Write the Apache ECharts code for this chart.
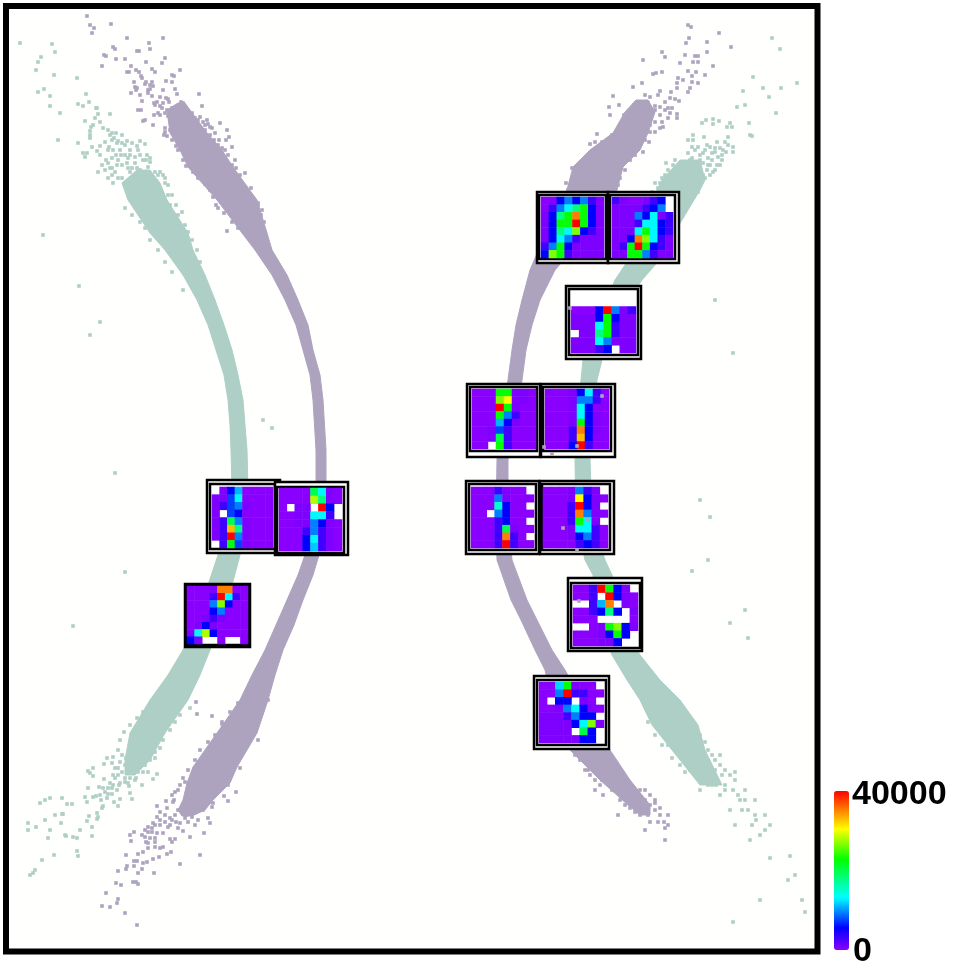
<!DOCTYPE html>
<html><head><meta charset="utf-8">
<style>html,body{margin:0;padding:0;background:#fff}#c{width:954px;height:972px}</style>
<script src="https://cdn.jsdelivr.net/npm/echarts@6/dist/echarts.min.js"></script>
</head><body><div id="c"></div>
<script>
const _ = null;
const colorMax = 40000, colorMin = 0;
const colorLabels = ['40000', '0'];

// Dense core of each band: [left x, right x, y]
const purpleLeftBand = [[178,185,103],[167,190,110],[170,207,133],[180,222,150],[188,233,167],[217,257,200],[242,267,233],[255,272,250],[272,287,275],[285,298,300],[296,308,325],[303,313,350],[310,320,375],[313,323,400],[316,326,450],[316,326,490],[312,325,530],[305,319,555],[298,313,575],[287,303,600],[276,294,625],[265,283,650],[252,275,675],[240,268,700],[217,257,733],[193,237,767],[187,230,783],[183,213,800],[178,205,810],[182,192,816]];
const tealLeftBand = [[137,150,170],[122,160,183],[128,167,200],[150,188,233],[165,193,250],[183,205,275],[197,215,300],[208,224,325],[216,232,350],[224,238,375],[228,243,400],[230,245,425],[231,247,450],[232,248,490],[228,245,530],[218,240,555],[208,232,585],[195,218,625],[183,210,650],[168,200,675],[150,188,700],[130,165,733],[125,150,760],[125,135,775]];
const purpleRightBand = [[636,648,100],[625,655,112],[613,648,133],[590,640,150],[573,623,167],[567,617,190],[552,595,215],[545,585,235],[530,555,270],[522,540,300],[516,532,325],[512,526,350],[508,522,380],[500,512,430],[497,508,460],[496,508,520],[497,512,560],[511,527,600],[521,537,620],[535,552,650],[545,565,670],[558,595,725],[570,610,750],[600,630,780],[628,650,805],[640,650,815]];
const tealRightBand = [[680,700,160],[662,705,180],[657,700,190],[625,655,265],[615,642,280],[598,616,320],[583,602,360],[581,597,380],[577,592,420],[575,590,460],[576,592,520],[585,605,560],[593,612,575],[598,620,620],[612,640,655],[627,660,680],[640,680,700],[652,698,725],[672,705,750],[700,722,785]];

// Loose points around the bands
const purpleTopLeft = [[87,16],[90,25],[94,28],[92,33],[111,24],[127,38],[163,38],[149,43],[150,49],[113,47],[115,49],[137,51],[139,51],[104,55],[106,56],[116,59],[125,59],[146,62],[165,58],[162,63],[102,66],[131,66],[127,72],[180,70],[129,72],[136,70],[152,69],[155,72],[139,72],[141,76],[142,78],[172,75],[174,76],[134,82],[146,82],[152,82],[166,81],[172,82],[135,87],[137,88],[145,84],[150,85],[153,86],[131,93],[136,90],[148,90],[150,89],[163,90],[175,89],[199,94],[177,94],[140,95],[148,93],[152,96],[160,97],[166,98],[168,99],[142,101],[154,103],[157,102],[163,103],[169,102],[181,102],[183,103],[202,106],[155,105],[160,106],[172,108],[180,110],[186,108],[138,110],[141,110],[158,113],[162,108],[167,110],[154,115],[160,115],[175,114],[182,117],[145,120],[143,121],[153,125],[220,123],[227,130],[165,132],[164,135],[170,130],[229,137],[226,140],[232,147],[200,117],[207,120],[195,118],[205,125],[215,133],[245,173],[251,188],[227,231],[190,118],[186,120],[178,125],[172,122],[198,120],[210,127],[218,145],[225,150],[235,160],[240,175],[258,203],[262,210],[218,208],[208,185],[210,175],[165,113],[168,116],[172,113],[176,112],[180,116],[184,113],[188,112],[192,113],[170,119],[174,118],[178,119],[183,121],[187,123],[192,121],[196,122],[203,122],[208,124],[212,128],[196,126],[200,128],[205,130],[210,135],[214,140],[219,140],[222,148],[228,155],[232,165],[236,168],[238,178],[243,186],[247,195],[252,200],[258,205],[261,215],[264,222],[176,130],[165,128],[167,136],[172,140],[176,146],[178,150],[183,160],[186,166],[193,172],[198,178],[205,184],[210,190],[213,197],[216,205],[224,213],[232,222],[238,228]];
const tealTopLeft = [[20,43],[52,44],[55,52],[41,57],[38,62],[36,70],[54,75],[77,78],[44,89],[38,92],[50,96],[86,94],[50,106],[78,104],[89,102],[60,113],[97,108],[83,106],[98,114],[96,108],[85,121],[95,118],[100,122],[110,114],[93,125],[91,127],[90,131],[103,128],[108,130],[112,133],[90,135],[78,143],[58,140],[90,138],[116,133],[122,135],[140,141],[145,144],[83,153],[87,153],[92,147],[97,151],[100,146],[112,140],[117,143],[125,145],[85,157],[100,155],[108,150],[120,150],[130,150],[138,150],[147,155],[102,165],[108,163],[98,172],[105,170],[112,168],[118,160],[128,158],[135,163],[148,167],[43,235],[160,172],[163,175],[165,183],[172,195],[176,205],[182,212],[112,175],[108,178],[122,178],[130,172],[140,170],[127,163],[150,162],[79,286],[100,322],[90,335],[115,473],[125,572],[73,626],[263,420],[272,428],[110,135],[114,138],[118,141],[122,143],[127,141],[132,143],[137,146],[105,142],[109,147],[113,150],[116,155],[121,155],[125,155],[130,155],[135,157],[140,155],[143,160],[106,160],[112,158],[117,165],[122,165],[128,168],[132,168],[137,168],[142,173],[146,160],[150,158],[155,172],[158,175],[165,178],[168,185],[110,168],[115,172],[118,178],[113,183],[168,195],[170,205],[178,215],[185,225],[188,232],[192,240],[197,250],[200,262],[145,228],[150,240],[158,250],[165,262],[172,272],[183,290],[125,208],[132,215],[140,222]];
const tealBottomLeft = [[62,798],[67,804],[72,804],[62,814],[63,814],[61,823],[66,836],[73,837],[77,838],[80,830],[77,851],[78,856],[92,836],[92,827],[97,813],[98,817],[97,819],[89,816],[87,821],[85,797],[87,802],[88,788],[93,797],[96,796],[99,787],[103,788],[101,800],[103,806],[102,808],[107,798],[108,794],[112,794],[114,802],[118,806],[120,799],[117,790],[119,785],[110,783],[104,779],[88,771],[93,768],[90,773],[93,776],[104,764],[107,758],[113,775],[115,778],[129,786],[130,793],[132,799],[142,785],[153,779],[157,774],[112,763],[115,768],[118,775],[125,782],[128,783],[135,780],[50,798],[45,800],[40,803],[28,823],[36,827],[48,838],[33,873],[54,855],[42,860],[30,875],[35,870],[45,820],[55,815],[50,830],[28,830],[65,835],[118,750],[122,755],[126,758],[130,755],[135,753],[140,755],[145,750],[150,748],[155,752],[160,748],[120,762],[125,765],[130,763],[135,765],[140,762],[145,765],[150,760],[155,758],[113,757],[118,768],[122,772],[127,772],[132,772],[138,772],[143,772],[148,772],[125,778],[130,778],[136,778],[120,783],[113,785],[108,788],[105,792],[112,788],[100,795],[163,740],[170,730],[175,722],[180,715],[190,708],[120,740],[124,732],[130,725],[137,718],[143,712],[150,705]];
const purpleBottomLeft = [[137,925],[125,913],[117,903],[118,899],[110,907],[102,906],[106,893],[116,883],[121,885],[133,882],[136,882],[138,884],[118,871],[126,869],[127,866],[134,861],[137,861],[134,866],[138,873],[142,869],[143,863],[147,862],[154,873],[153,859],[159,857],[167,854],[171,852],[180,864],[200,855],[126,855],[138,854],[143,852],[148,848],[155,847],[160,848],[163,847],[172,842],[175,839],[170,839],[130,835],[134,832],[131,841],[145,837],[146,842],[148,843],[152,832],[157,833],[163,833],[155,842],[148,827],[153,823],[160,820],[157,817],[168,827],[172,820],[180,823],[183,831],[190,837],[204,833],[188,822],[192,817],[198,820],[208,818],[210,823],[167,808],[157,806],[166,801],[173,802],[175,792],[180,785],[185,782],[172,795],[203,810],[213,803],[212,807],[224,796],[228,801],[236,792],[215,792],[218,787],[228,785],[240,768],[248,742],[258,740],[197,714],[212,716],[222,724],[196,702],[178,810],[182,812],[186,815],[190,810],[195,812],[200,808],[205,806],[210,802],[175,815],[170,818],[165,815],[160,812],[176,822],[170,825],[165,822],[160,825],[155,825],[152,828],[148,832],[145,830],[150,838],[142,835],[155,838],[185,818],[178,828],[195,825],[214,795],[218,780],[222,775],[230,770],[235,760],[240,752],[250,735],[255,725],[262,712],[268,700],[195,760],[200,750],[208,742],[215,735],[222,722],[230,712],[238,703],[188,770],[183,778],[178,790],[174,800]];
const purpleTopRight = [[688,25],[691,27],[719,33],[689,38],[686,43],[707,42],[731,47],[662,52],[665,57],[685,55],[707,52],[695,56],[698,56],[643,60],[680,63],[693,62],[698,62],[713,66],[662,72],[653,74],[656,73],[688,71],[696,72],[692,76],[705,75],[678,78],[683,80],[677,83],[642,83],[633,87],[692,82],[698,83],[677,88],[690,88],[688,92],[671,92],[660,91],[658,95],[613,96],[645,95],[650,97],[670,98],[675,99],[679,101],[665,102],[640,103],[634,105],[619,105],[609,107],[655,106],[610,115],[638,108],[643,107],[648,103],[660,107],[668,108],[677,114],[677,118],[670,113],[660,115],[636,113],[624,115],[663,127],[650,132],[649,142],[643,152],[597,134],[590,144],[595,142],[602,142],[592,155],[586,161],[580,163],[576,167],[572,168],[566,183],[570,186],[577,175],[612,135],[615,147],[620,125],[625,120],[630,118],[632,112],[640,112],[645,112],[650,108],[655,110],[665,110],[672,108],[668,118],[662,122],[655,122],[650,120],[645,125],[660,128],[655,132],[650,125],[628,128],[622,133],[615,138],[608,140],[603,146],[598,150],[595,150],[590,155],[583,160],[578,170],[580,178],[574,180],[568,190],[640,145],[645,140],[635,155],[630,160],[625,170],[620,178],[618,185]];
const tealTopRight = [[772,38],[780,49],[753,77],[797,83],[743,91],[763,88],[781,88],[769,97],[745,105],[737,107],[776,113],[749,123],[750,135],[752,136],[733,147],[733,152],[730,123],[727,127],[732,127],[713,119],[713,124],[719,121],[702,123],[706,120],[693,135],[688,140],[693,140],[704,137],[717,142],[725,142],[728,137],[728,145],[692,147],[698,147],[707,145],[710,147],[715,148],[723,150],[688,153],[703,153],[712,153],[718,157],[692,158],[700,160],[708,158],[693,163],[710,165],[720,165],[675,160],[666,163],[673,165],[682,163],[700,168],[707,170],[713,172],[668,170],[665,175],[655,183],[660,183],[705,178],[700,183],[692,191],[698,192],[688,198],[710,517],[692,571],[748,638],[730,623],[715,300],[733,353],[700,500],[708,560],[745,610],[695,150],[700,155],[705,150],[715,152],[720,148],[722,155],[726,152],[690,160],[696,165],[703,163],[712,160],[717,165],[722,160],[685,165],[690,170],[695,175],[703,175],[710,175],[715,170],[680,170],[675,172],[670,175],[678,178],[685,178],[690,180],[697,180],[708,165],[662,178],[668,180],[658,188],[652,192]];
const tealBottomRight = [[735,772],[745,790],[755,815],[765,830],[760,835],[770,825],[750,840],[770,858],[790,856],[795,875],[788,880],[802,900],[805,912],[760,900],[733,922],[738,795],[725,790],[730,810],[745,800],[752,825],[715,770],[722,775],[742,810],[765,815],[712,785],[705,782],[695,775],[700,790],[720,795],[735,825],[755,800],[668,745],[675,750],[682,755],[690,760],[695,757],[700,752],[708,750],[712,755],[715,760],[720,765],[725,770],[730,775],[735,780],[705,768],[710,775],[700,770],[695,772],[690,770],[700,780],[708,785],[716,785],[725,785],[733,790],[740,800],[748,810],[756,820],[648,722],[655,735],[662,745],[672,758],[680,765],[685,772],[700,735],[705,742],[690,720],[680,705],[672,695],[720,755]];
const purpleBottomRight = [[640,800],[650,795],[660,815],[665,828],[650,822],[640,815],[668,815],[655,810],[635,812],[625,805],[618,815],[665,840],[645,830],[630,785],[645,790],[655,800],[612,790],[600,785],[590,775],[585,770],[580,760],[620,800],[603,795],[595,790],[632,797],[575,755],[590,760],[598,770],[605,780],[612,778],[618,785],[625,795],[635,800],[645,800],[655,803],[660,808],[610,760],[615,770],[622,775],[640,790],[650,805],[658,822],[648,815],[640,808],[630,808],[602,780],[595,780],[588,770],[645,812],[664,822],[668,825]];
const pointsOverMaps = [[602,396],[577,446],[544,447],[552,454],[563,528],[588,520],[577,550],[570,308],[579,601]];

// Values of the twelve small maps, 8 rows of 8 cells, top row first
const mapA = [
 [0,0,5600,9400,5600,9400,3000,500],
 [0,3000,9400,13200,18000,22800,5600,500],
 [500,5600,18000,22800,35200,22800,5600,500],
 [500,5600,22800,22800,40000,22800,5600,500],
 [500,5600,18000,13200,26600,5600,3000,500],
 [500,5600,13200,9400,3000,500,500,500],
 [3000,9400,22800,5600,500,500,500,500],
 [5600,26600,22800,3000,500,500,500,500]];
const mapB = [
 [3000,500,0,0,500,3000,5600,_],
 [500,500,500,500,3000,5600,9400,_],
 [500,500,500,9400,5600,13200,500,3000],
 [500,500,500,3000,13200,13200,5600,3000],
 [500,500,500,13200,22800,13200,5600,3000],
 [500,500,5600,35200,26600,13200,3000,500],
 [500,3000,22800,40000,22800,5600,3000,500],
 [500,500,22800,22800,9400,3000,500,500]];
const mapC = [
 [_,_,_,_,_,_,_,_],
 [_,_,_,_,_,_,_,_],
 [0,0,0,5600,40000,9400,500,3000],
 [500,500,500,5600,22800,5600,500,500],
 [500,500,500,13200,22800,3000,500,500],
 [_,500,500,18000,22800,3000,500,500],
 [500,500,500,13200,9400,500,500,500],
 [500,500,500,3000,5600,_,500,500]];
const mapD = [
 [0,0,0,22800,22800,500,500,0],
 [0,0,0,26600,30400,500,500,0],
 [0,0,0,40000,22800,500,0,0],
 [0,0,0,22800,9400,3000,0,0],
 [0,0,0,11000,5600,500,0,0],
 [0,0,500,7500,3000,0,0,0],
 [0,0,500,20000,3000,0,0,0],
 [0,0,_,22800,3000,0,0,0]];
const mapE = [
 [0,0,0,500,5600,13200,3000,0],
 [0,0,0,500,9400,9400,3000,0],
 [0,0,0,500,13200,5600,0,0],
 [0,0,0,500,13200,5600,500,0],
 [0,0,0,500,22800,5600,500,0],
 [0,0,0,3000,35200,5600,500,0],
 [0,0,0,3000,33000,5600,0,0],
 [0,0,0,5600,40000,3000,0,0]];
const mapF = [
 [0,0,0,3000,500,0,0,_],
 [0,0,0,9400,500,0,0,0],
 [0,0,0,15000,5600,0,0,_],
 [0,0,_,9400,5600,0,0,0],
 [0,0,0,3000,5600,0,0,_],
 [0,0,0,3000,20000,500,0,0],
 [0,0,0,3000,35200,3000,0,_],
 [0,0,0,3000,40000,3000,0,0]];
const mapG = [
 [0,0,0,500,9400,3000,500,_],
 [0,0,0,500,30400,5600,500,0],
 [0,0,0,3000,40000,5600,500,_],
 [0,0,0,3000,35200,9400,500,0],
 [0,0,0,3000,22800,13200,500,_],
 [0,0,0,500,13200,13200,3000,0],
 [0,0,0,500,5600,9400,3000,0],
 [0,0,0,0,3000,5600,3000,0]];
const mapH = [
 [_,500,5600,11000,0,0,0,0],
 [500,500,7500,13200,0,0,0,0],
 [500,3000,7500,9400,500,0,0,0],
 [500,_,7500,5600,0,0,0,0],
 [500,3000,20000,9400,500,0,0,0],
 [500,3000,33000,18000,500,0,0,0],
 [500,3000,40000,9400,500,0,0,0],
 [_,3000,22800,7500,500,0,0,0]];
const mapI = [
 [0,0,0,0,20000,13200,500,0],
 [0,0,0,0,28000,18000,500,0],
 [0,_,500,500,_,40000,5600,_],
 [0,0,500,500,13200,13200,3000,_],
 [0,0,500,500,9400,5600,500,0],
 [0,0,0,3000,9400,3000,500,0],
 [0,0,0,5600,13200,3000,500,0],
 [0,0,0,5600,11500,3000,500,0]];
const mapJ = [
 [0,0,0,500,35200,35200,0,0],
 [0,0,0,3000,40000,13200,3000,0],
 [0,0,0,9400,26600,5600,0,0],
 [0,0,0,5600,9400,0,0,0],
 [0,0,500,3000,500,0,0,0],
 [0,500,5600,500,0,0,0,0],
 [500,13200,28000,5600,0,0,0,0],
 [5600,500,_,_,0,_,_,0]];
const mapK = [
 [0,0,3000,40000,22800,5600,500,_],
 [0,0,3000,_,40000,5600,500,0],
 [_,_,3000,11000,35200,_,500,0],
 [0,0,3000,5600,18000,5600,_,500],
 [0,0,0,_,_,_,_,0],
 [_,_,0,500,22800,26600,5600,500],
 [0,0,0,500,5600,22800,5600,_],
 [0,0,0,500,500,5600,_,_]];
const mapL = [
 [0,0,12000,22800,500,0,0,_],
 [0,0,9400,40000,3000,3000,0,0],
 [0,_,5600,5600,_,500,0,_],
 [0,0,500,9400,13200,5600,500,0],
 [500,500,500,3000,9400,5600,5600,_],
 [500,500,500,500,5600,13200,26600,500],
 [500,500,500,500,_,20000,5600,_],
 [500,500,500,500,500,5600,5600,_]];
const smallMaps = [mapA,mapB,mapC,mapD,mapE,mapF,mapG,mapH,mapI,mapJ,mapK,mapL];

// Layout (picture units) of each map: cell area, then inner and outer frame
const cellAreas = [[541,197,604,258],[612,197,673,258],[571,291,636,353],[472,389,536,449],[545,389,609,449],[471,487,534,548],[543,487,608,548],[212,487,273,548],[279,488,342,551],[187,586,248,644],[573,585,638,646],[539,682,604,743]];
const innerFrames = [[539,195,606,259],[610,195,675,259],[569,289,638,355],[470,387,537,451],[543,387,611,451],[469,484,536,550],[542,484,610,550],[210,484,275,549],[277,487,344,553],[186,585,249,645],[571,583,640,648],[537,680,606,745]];
const outerFrames = [[537,192,608,263],[608,192,679,263],[566,286,641,359],[467,384,540,457],[541,384,615,457],[466,481,539,554],[540,481,614,554],[207,480,280,553],[275,482,348,555],[185,584,250,647],[568,578,642,651],[534,676,609,749]];
const ringOnly = outerFrames.map((o, i) => [...o, ...innerFrames[i]]);

const purple = '#ada3bf', teal = '#aecfc5';

// Colour ramp as measured on the reference's colour bar
const rampStops = [[0,[138,0,255]],[.14,[0,0,255]],[.33,[0,255,255]],[.57,[0,255,0]],[.76,[255,255,0]],[1,[255,0,0]]];
function rampAt(t){
  for(let i=1;i<rampStops.length;i++){
    if(t<=rampStops[i][0]){
      const a=rampStops[i-1],b=rampStops[i],k=(t-a[0])/(b[0]-a[0]);
      return 'rgb('+a[1].map((v,j)=>Math.round(v+(b[1][j]-v)*k)).join(',')+')';
    }
  }
  return 'rgb(255,0,0)';
}
const ramp=[];for(let i=0;i<=50;i++)ramp.push(rampAt(i/50));

const W=954,H=972;
const grids=[{left:6,top:6,width:811.5,height:945.5,show:true,backgroundColor:'#fffffe',borderColor:'#000',borderWidth:6,z:0}];
const xAxes=[{gridIndex:0,type:'value',min:6,max:817.5,show:false}];
const yAxes=[{gridIndex:0,type:'value',min:6,max:951.5,inverse:true,show:false}];
const cols=['0','1','2','3','4','5','6','7'];
const series=[];

function band(rows,color,z){
  return {type:'custom',xAxisIndex:0,yAxisIndex:0,silent:true,z,animation:false,
    clip:true,data:rows.slice(0,-1).map((r,i)=>[r[0],r[1],r[2],rows[i+1][0],rows[i+1][1],rows[i+1][2]]),
    encode:{x:[0,1,3,4],y:[2,5]},
    renderItem(p,api){
      const a=api.coord([api.value(0),api.value(2)]),b=api.coord([api.value(1),api.value(2)]),
            c=api.coord([api.value(4),api.value(5)]),d=api.coord([api.value(3),api.value(5)]);
      return {type:'polygon',shape:{points:[a,b,c,d]},style:{fill:color,stroke:color,lineWidth:1}};
    }};
}
function dots(data,color,z){
  return {type:'scatter',xAxisIndex:0,yAxisIndex:0,data,symbol:'rect',symbolSize:3.6,silent:true,z:z||2,
    itemStyle:{color,opacity:1},animation:false};
}
series.push(band(purpleLeftBand,purple,2),band(tealLeftBand,teal,2),band(purpleRightBand,purple,2),band(tealRightBand,teal,2));
[purpleTopLeft,purpleBottomLeft,purpleTopRight,purpleBottomRight].forEach(d=>series.push(dots(d,purple)));
[tealTopLeft,tealBottomLeft,tealTopRight,tealBottomRight].forEach(d=>series.push(dots(d,teal)));

series.push({type:'custom',xAxisIndex:0,yAxisIndex:0,silent:true,z:3,animation:false,data:ringOnly,
  encode:{x:[0,2],y:[1,3]},
  renderItem(p,api){
    const r=(i)=>{const a=api.coord([api.value(i),api.value(i+1)]),b=api.coord([api.value(i+2),api.value(i+3)]);
      return {x:a[0],y:a[1],width:b[0]-a[0],height:b[1]-a[1]};};
    return {type:'group',children:[
      {type:'rect',shape:r(0),style:{fill:'#fff',stroke:'#000',lineWidth:2.5}},
      {type:'rect',shape:r(4),style:{fill:'#fff',stroke:'#000',lineWidth:2.5}}]};
  }});

const heatIdx=[];
smallMaps.forEach((m,i)=>{
  const a=cellAreas[i],g=i+1;
  grids.push({left:a[0],top:a[1],width:a[2]-a[0],height:a[3]-a[1],show:false});
  xAxes.push({gridIndex:g,type:'category',data:cols,show:false});
  yAxes.push({gridIndex:g,type:'category',data:cols,inverse:true,show:false});
  const data=[];
  m.forEach((row,r)=>row.forEach((v,c)=>{if(v!==null)data.push([c,r,v]);}));
  heatIdx.push(series.length);
  series.push({type:'heatmap',xAxisIndex:g,yAxisIndex:g,data,silent:true,z:4,animation:false,
    itemStyle:{borderWidth:0},emphasis:{disabled:true},progressive:0});
});
series.push(dots(pointsOverMaps,'#ada3bf',6));

const chart=echarts.init(document.getElementById('c'),null,{renderer:'canvas',width:W,height:H});
chart.setOption({
  animation:false,backgroundColor:'#fff',
  grid:grids,xAxis:xAxes,yAxis:yAxes,series,
  visualMap:{type:'continuous',min:colorMin,max:colorMax,seriesIndex:heatIdx,calculable:false,show:true,
    orient:'vertical',left:834,top:791,itemWidth:15,itemHeight:159,padding:0,text:null,showLabel:false,
    inRange:{color:ramp},hoverLink:false},
  graphic:[
    {type:'text',left:852,top:778,z:10,style:{text:colorLabels[0],font:'bold 34px "Liberation Sans"',fill:'#000'}},
    {type:'text',left:853,top:935,z:10,style:{text:colorLabels[1],font:'bold 34px "Liberation Sans"',fill:'#000'}}
  ]
});
</script></body></html>
